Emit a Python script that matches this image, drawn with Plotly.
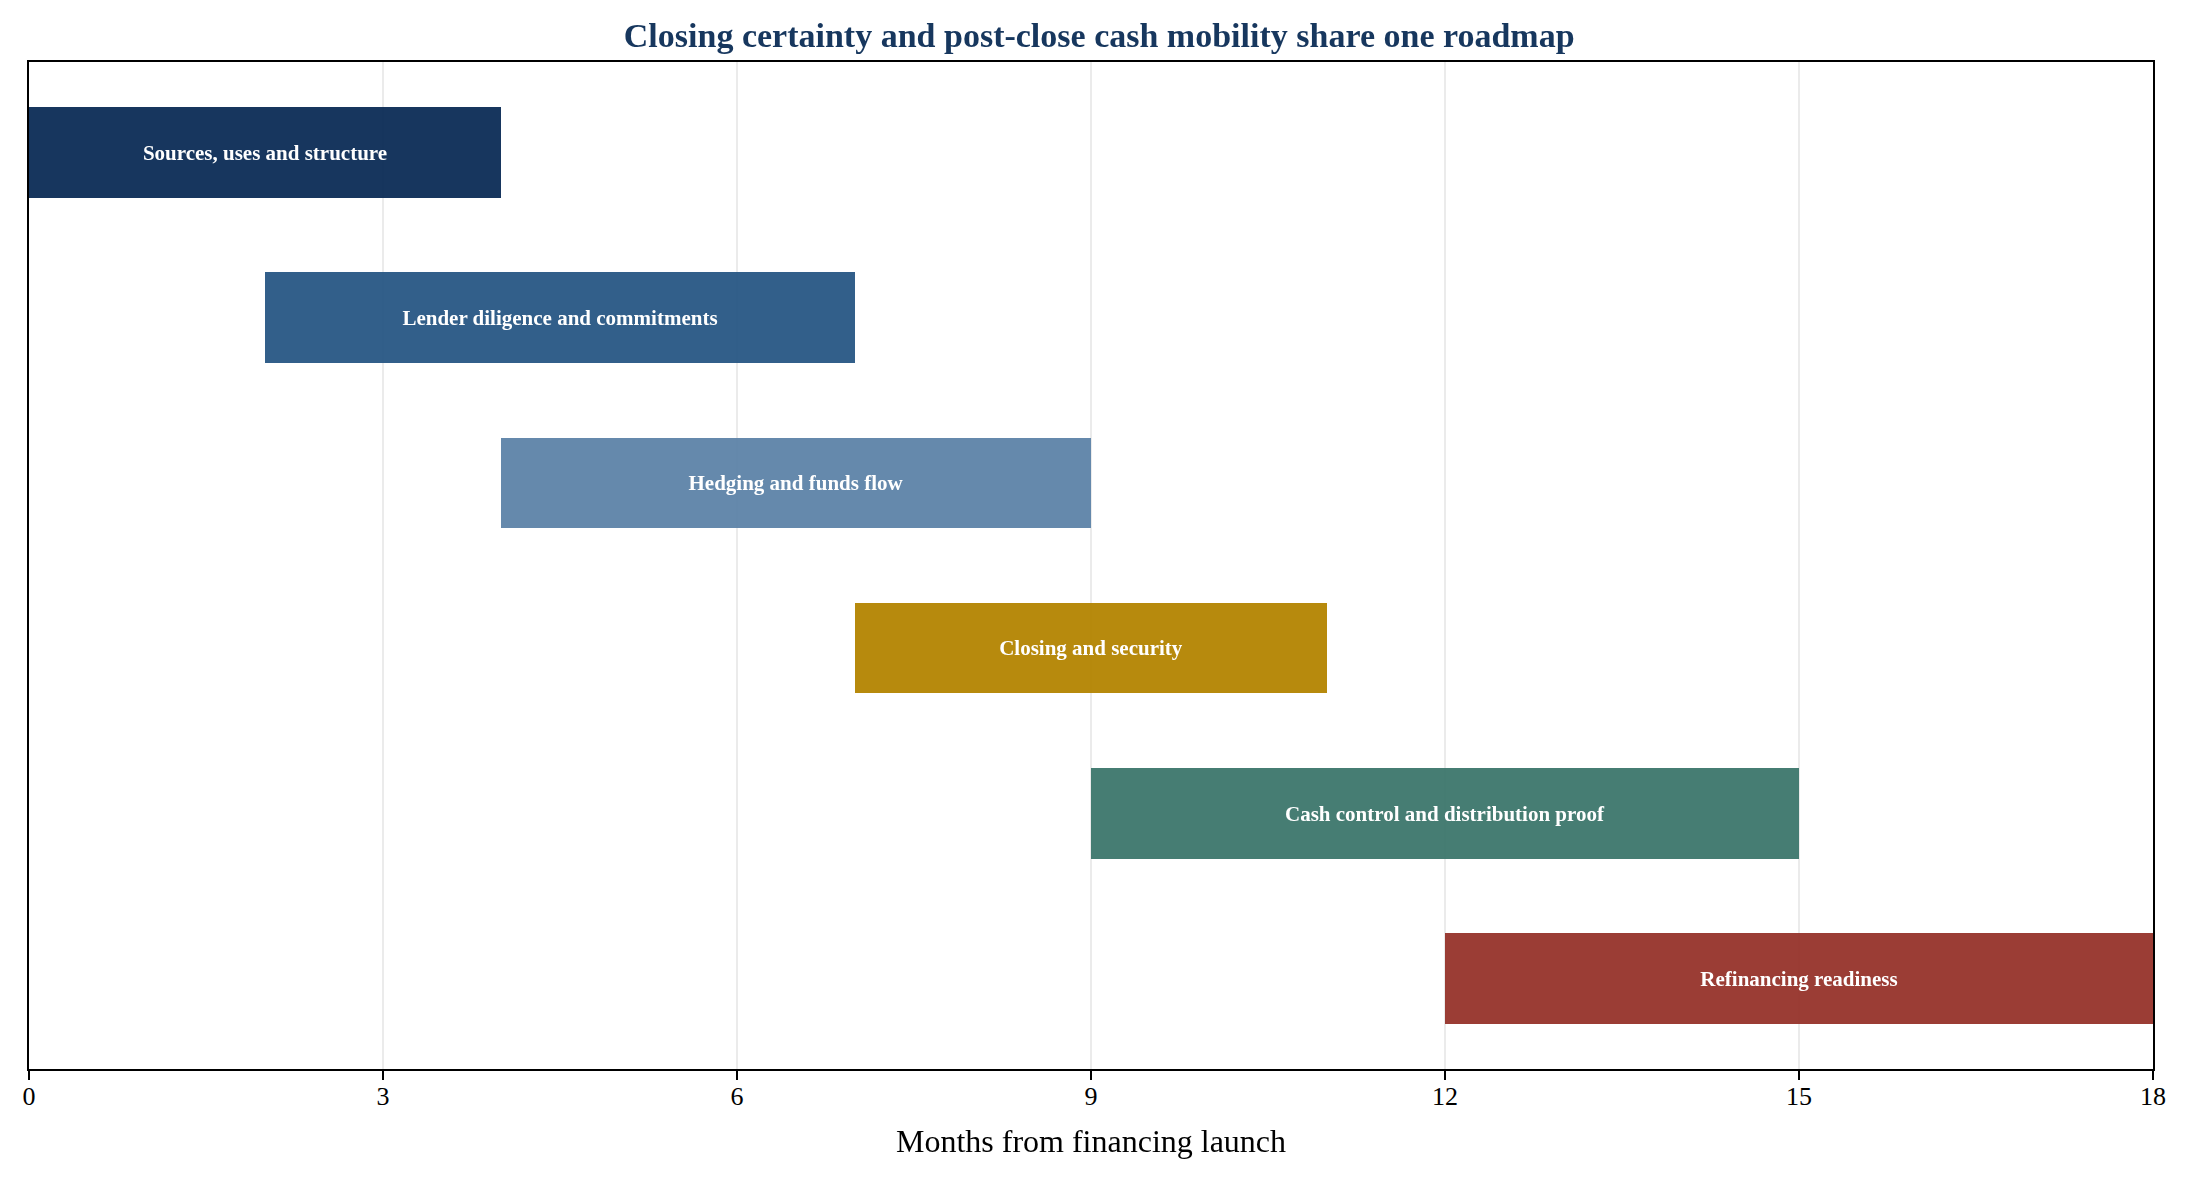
import plotly.graph_objects as go

phases = ["Sources, uses and structure", "Lender diligence and commitments", "Hedging and funds flow",
          "Closing and security", "Cash control and distribution proof", "Refinancing readiness"]
start_month = [0, 2, 4, 7, 9, 12]
end_month = [4, 7, 9, 11, 15, 18]
colors = ["rgb(11,44,86)", "rgb(40,87,132)", "rgb(93,131,168)",
          "rgb(180,132,0)", "rgb(61,118,108)", "rgb(150,51,43)"]
tick_vals = [0, 3, 6, 9, 12, 15, 18]

durations = [e - s for s, e in zip(start_month, end_month)]
ypos = list(range(len(phases)))

fig = go.Figure()
fig.add_trace(go.Bar(
    y=ypos, x=durations, base=start_month, orientation="h",
    width=0.55,
    marker=dict(color=colors, line=dict(width=0)),
    opacity=0.95,
    text=phases, textposition="inside", insidetextanchor="middle", textangle=0,
    constraintext="none",
    textfont=dict(family="Liberation Serif", size=21, color="white", weight="bold"),
    hoverinfo="skip", showlegend=False,
))

fig.update_layout(
    width=2189, height=1179,
    margin=dict(l=21, r=44, t=54, b=118),
    paper_bgcolor="white", plot_bgcolor="white",
    font=dict(family="Liberation Serif", color="black"),
    title=dict(text="<b>Closing certainty and post-close cash mobility share one roadmap</b>",
               x=0.4985, xanchor="center", y=0.977, yanchor="middle",
               font=dict(family="Liberation Serif", size=34, color="#17375E")),
    bargap=0,
)
fig.update_xaxes(
    range=[0, 18], tickvals=tick_vals, ticktext=[str(v) for v in tick_vals],
    showgrid=True, gridcolor="#ebebeb", gridwidth=2,
    showline=True, linecolor="black", linewidth=2, mirror=True,
    ticks="outside", ticklen=9, tickwidth=2, tickcolor="black",
    ticklabelstandoff=-6,
    tickfont=dict(size=26, family="Liberation Serif"),
    title=dict(text="Months from financing launch", font=dict(size=32, family="Liberation Serif"), standoff=19),
    zeroline=False,
)
fig.update_yaxes(
    range=[5.55, -0.55], showticklabels=False, showgrid=False, zeroline=False,
    showline=True, linecolor="black", linewidth=2, mirror=True, ticks="",
)

fig.write_html("out.html")
